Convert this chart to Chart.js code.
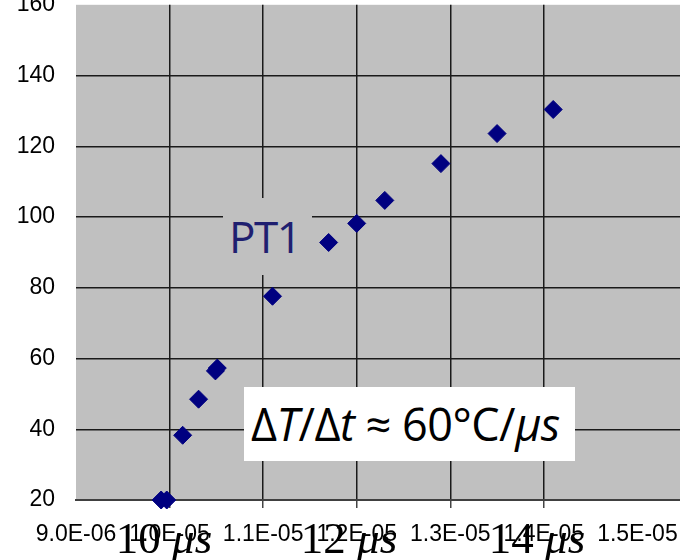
<!DOCTYPE html>
<html>
<head>
<meta charset="utf-8">
<script src="https://cdn.jsdelivr.net/npm/chart.js@4/dist/chart.umd.min.js"></script>
<style>
  html, body { margin: 0; padding: 0; background: #fff; width: 680px; height: 560px; overflow: hidden; position: relative; }
  #wrap { position: absolute; left: 0; top: -30px; width: 771px; height: 590px; }
  .note { position: absolute; white-space: nowrap; }
  #pt1 { left: 223px; top: 198px; width: 89px; height: 77px; background: #c0c0c0; color: #1f1f70;
         font: 44px "Open Sans", sans-serif; line-height: 77px; padding-left: 6px; letter-spacing: -1.5px; box-sizing: border-box; }
  #rate { left: 244px; top: 387px; width: 331px; height: 74px; background: #fff; color: #000;
          font: 45px "Open Sans", sans-serif; line-height: 74px; padding-left: 7px; letter-spacing: -0.5px; box-sizing: border-box; }
  .us { top: 516px; width: 140px; text-align: center; color: #000; font: 45px "Liberation Serif", serif; line-height: 44px; }
</style>
</head>
<body>
<div id="wrap"><canvas id="chart"></canvas></div>
<div class="note" id="pt1">PT1</div>
<div class="note" id="rate">Δ<i>T</i>/Δ<i>t</i> ≈ 60°C/<i>μs</i></div>
<div class="note us" style="left:94px">10 <i>μs</i></div>
<div class="note us" style="left:279px">12 <i>μs</i></div>
<div class="note us" style="left:467px">14 <i>μs</i></div>
<script>
// Messwerte (Zeit in s, Temperatur)
const timeS = [9.91e-6, 9.97e-6, 10.14e-6, 10.31e-6, 10.49e-6, 10.51e-6, 11.10e-6,
               11.70e-6, 12.00e-6, 12.30e-6, 12.90e-6, 13.50e-6, 14.10e-6];
const tempC = [20, 20, 38.3, 48.5, 56.5, 57.3, 77.6, 92.8, 98.2, 104.7, 115.1, 123.6, 130.4];

const xTickValues = [9e-6, 1.0e-5, 1.1e-5, 1.2e-5, 1.3e-5, 1.4e-5, 1.5e-5];
const yTickValues = [20, 40, 60, 80, 100, 120, 140, 160];

// Gitterlinien, die im Original fehlen
const hiddenX = [9e-6, 1.5e-5];

function sciLabel(v) {
  const [m, e] = v.toExponential(1).split("e");
  const n = parseInt(e, 10);
  return m + "E" + (n < 0 ? "-" : "+") + String(Math.abs(n)).padStart(2, "0");
}

const isHiddenX = (v) => hiddenX.some(h => Math.abs(h - v) < 1e-9);

const plotBg = {
  id: "plotBg",
  beforeDraw(chart) {
    const { ctx, chartArea: a } = chart;
    ctx.save();
    ctx.fillStyle = "#c0c0c0";
    ctx.fillRect(a.left, a.top, a.right - a.left, a.bottom - a.top);
    ctx.restore();
  }
};

const ctx = document.getElementById("chart").getContext("2d");
new Chart(ctx, {
  type: "scatter",
  data: {
    datasets: [{
      label: "PT1",
      data: timeS.map((t, i) => ({ x: t, y: tempC[i] })),
      pointStyle: "rectRot",
      pointRadius: 9,
      pointHoverRadius: 9,
      backgroundColor: "#000080",
      borderColor: "#000080",
      borderWidth: 1,
      clip: false
    }]
  },
  options: {
    responsive: true,
    maintainAspectRatio: false,
    animation: false,
    layout: { padding: { top: 25, right: 40, left: 0, bottom: 0 } },
    plugins: {
      legend: { display: false },
      tooltip: { enabled: false }
    },
    scales: {
      x: {
        type: "linear",
        min: 9e-6,
        max: 1.6e-5,
        afterBuildTicks: (scale) => { scale.ticks = xTickValues.map(v => ({ value: v })); },
        afterFit: (scale) => { scale.height = 60; },
        ticks: {
          autoSkip: false,
          maxRotation: 0,
          padding: 13,
          color: "#000",
          font: { family: "Liberation Sans, Arial, sans-serif", size: 23 },
          callback: (v) => sciLabel(v)
        },
        grid: {
          color: (c) => c.tick && isHiddenX(c.tick.value) ? "rgba(0,0,0,0)" : "#1a1a1a",
          tickColor: (c) => c.tick && isHiddenX(c.tick.value) ? "rgba(0,0,0,0)" : "#444",
          lineWidth: 1.5,
          tickLength: 8
        },
        border: { display: true, color: "#404040", width: 2 }
      },
      y: {
        min: 20,
        max: 160,
        afterBuildTicks: (scale) => { scale.ticks = yTickValues.map(v => ({ value: v })); },
        afterFit: (scale) => { scale.width = 76; },
        ticks: {
          padding: 21,
          color: "#000",
          font: { family: "Liberation Sans, Arial, sans-serif", size: 23 }
        },
        grid: {
          drawTicks: false,
          color: (c) => c.tick && (c.tick.value === 160 || c.tick.value === 20) ? "rgba(0,0,0,0)" : "#1a1a1a",
          lineWidth: 1.5
        },
        border: { display: false }
      }
    }
  },
  plugins: [plotBg]
});
</script>
</body>
</html>
